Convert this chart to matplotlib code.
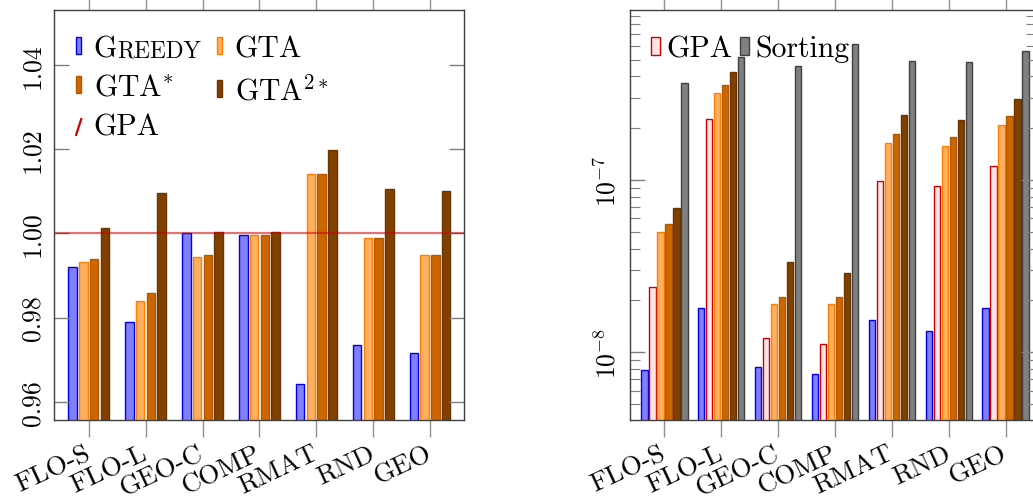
import numpy as np
import matplotlib
matplotlib.use("Agg")
import matplotlib.pyplot as plt
from matplotlib.lines import Line2D
from matplotlib.legend_handler import HandlerBase
from matplotlib.ticker import FixedLocator, LogLocator, NullFormatter, FuncFormatter

plt.rcParams["font.family"] = ["cmr10", "DejaVu Serif"]
plt.rcParams["mathtext.fontset"] = "cm"
plt.rcParams["axes.unicode_minus"] = False

categories = ["FLO-S", "FLO-L", "GEO-C", "COMP", "RMAT", "RND", "GEO"]

# left: solution quality relative to GPA
greedy_q = [0.9920, 0.9789, 1.0000, 0.9996, 0.9642, 0.9734, 0.9715]
gta_q = [0.9931, 0.9840, 0.9945, 0.9995, 1.0140, 0.9990, 0.9948]
gta_star_q = [0.9938, 0.9858, 0.9949, 0.9995, 1.0140, 0.9990, 0.9948]
gta2_star_q = [1.0012, 1.0096, 1.0002, 1.0002, 1.0197, 1.0106, 1.0100]
gpa_q = 1.0
quality_ticks = [0.96, 0.98, 1.00, 1.02, 1.04]

# right: running time (log scale)
greedy_t = [6.93e-9, 1.72e-8, 7.26e-9, 6.44e-9, 1.44e-8, 1.23e-8, 1.71e-8]
gpa_t = [2.31e-8, 2.24e-7, 1.11e-8, 1.02e-8, 9.83e-8, 9.19e-8, 1.20e-7]
gta_t = [4.90e-8, 3.20e-7, 1.81e-8, 1.81e-8, 1.63e-7, 1.57e-7, 2.08e-7]
gta_star_t = [5.48e-8, 3.57e-7, 1.99e-8, 1.99e-8, 1.83e-7, 1.77e-7, 2.34e-7]
gta2_star_t = [6.79e-8, 4.22e-7, 3.26e-8, 2.77e-8, 2.38e-7, 2.23e-7, 2.95e-7]
sorting_t = [3.64e-7, 5.20e-7, 4.57e-7, 6.15e-7, 4.89e-7, 4.84e-7, 5.61e-7]
time_ticks = [1e-8, 1e-7]

styles = {
    "greedy": dict(facecolor="#8080ff", edgecolor="#0000e0"),
    "gpa": dict(facecolor="#ffe6e6", edgecolor="#cc0000"),
    "gta": dict(facecolor="#ffb061", edgecolor="#ff8000"),
    "gta_star": dict(facecolor="#cc6600", edgecolor="#b35900"),
    "gta2_star": dict(facecolor="#804000", edgecolor="#6b3500"),
    "sorting": dict(facecolor="#808080", edgecolor="#404040"),
}

TICK_FS = 18.5
XLAB_FS = 19.5
LEG_FS = 21.5


class SlashHandler(HandlerBase):
    # pgfplots draws the GPA legend entry as a short slanted stroke
    def create_artists(self, legend, orig_handle, xdescent, ydescent,
                       width, height, fontsize, trans):
        line = Line2D([-xdescent, -xdescent + width],
                      [-ydescent - 0.1 * height, -ydescent + 0.8 * height],
                      color="#cc0000", lw=1.6, transform=trans)
        return [line]


def style_axes(ax):
    for s in ax.spines.values():
        s.set_color("#404040")
        s.set_linewidth(1.0)
    ax.set_xticks(np.arange(len(categories)))
    ax.set_xticklabels(categories)
    ax.tick_params(axis="x", which="both", direction="out", top=True, length=12,
                   color="#909090", width=1.0, pad=11, labelsize=XLAB_FS, labelrotation=25)
    ax.tick_params(axis="y", which="major", direction="in", right=True, length=11,
                   color="#808080", width=1.0, pad=7, labelsize=TICK_FS, labelrotation=90)
    ax.tick_params(axis="y", which="minor", direction="in", right=True, length=7,
                   color="#808080", width=0.8)
    for lbl in ax.get_xticklabels():
        lbl.set_ha("right")
        lbl.set_va("center")
        lbl.set_rotation_mode("anchor")
    for lbl in ax.get_yticklabels():
        lbl.set_va("center")


fig = plt.figure(figsize=(10.33, 5.02), dpi=100)
x = np.arange(len(categories))

# ---- left chart ----
ax1 = fig.add_axes([54 / 1033, 81 / 502, 410 / 1033, 410 / 502])
w1 = 0.15
offs1 = [-0.283, -0.0945, 0.0945, 0.283]
series1 = [(greedy_q, "greedy"), (gta_q, "gta"), (gta_star_q, "gta_star"), (gta2_star_q, "gta2_star")]
bars1 = []
for (vals, key), off in zip(series1, offs1):
    bars1.append(ax1.bar(x + off, vals, w1, linewidth=1.0, **styles[key]))
gpa_line = ax1.axhline(gpa_q, color="#cc0000", alpha=0.55, lw=1.6)
ax1.set_xlim(-0.61, -0.61 + 410 / 56.9)
ax1.set_ylim(0.9557, 1.0530)
ax1.yaxis.set_major_locator(FixedLocator(quality_ticks))
ax1.yaxis.set_major_formatter(FuncFormatter(lambda v, p: f"{v:.2f}"))
style_axes(ax1)

# placeholder for the small-caps "Greedy" label, drawn over after layout
h = [bars1[0], bars1[2], gpa_line, bars1[1], bars1[3]]
l = ["GREEDY", r"GTA$^{*}$", "GPA", "GTA", r"GTA$^{2*}$"]
leg1 = ax1.legend(h, l, ncol=2, loc="upper left", bbox_to_anchor=(0.054, 0.94),
                  frameon=False, borderpad=0, borderaxespad=0, handlelength=0.17,
                  handleheight=0.52, handletextpad=0.42, columnspacing=0.45,
                  labelspacing=0.42, prop={"size": LEG_FS},
                  handler_map={Line2D: SlashHandler()})
ph = leg1.get_texts()[0]
ph.set_fontsize(LEG_FS * 0.835)
ph.set_alpha(0)

# ---- right chart ----
ax2 = fig.add_axes([630 / 1033, 81 / 502, 406 / 1033, 410 / 502])
w2 = 0.114
offs2 = [-0.352, -0.211, -0.0703, 0.0703, 0.211, 0.352]
series2 = [(greedy_t, "greedy"), (gpa_t, "gpa"), (gta_t, "gta"), (gta_star_t, "gta_star"),
           (gta2_star_t, "gta2_star"), (sorting_t, "sorting")]
bars2 = []
for (vals, key), off in zip(series2, offs2):
    bars2.append(ax2.bar(x + off, vals, w2, bottom=1e-9, linewidth=1.0, **styles[key]))
ax2.set_yscale("log")
ax2.set_xlim(-0.603, -0.603 + 406 / 56.9)
ax2.set_ylim(4.05e-9, 9.7e-7)
ax2.yaxis.set_major_locator(FixedLocator(time_ticks))
ax2.yaxis.set_minor_locator(LogLocator(base=10, subs=np.arange(2, 10)))
ax2.yaxis.set_minor_formatter(NullFormatter())
ax2.yaxis.set_major_formatter(FuncFormatter(lambda v, p: r"$10^{%d}$" % round(np.log10(v))))
style_axes(ax2)

leg2 = ax2.legend([bars2[1], bars2[5]], ["GPA", "Sorting"], ncol=2, loc="upper left",
                  bbox_to_anchor=(0.052, 0.94), frameon=False, borderpad=0, borderaxespad=0,
                  handlelength=0.31, handleheight=0.55, handletextpad=0.2, columnspacing=0.25,
                  prop={"size": LEG_FS})

# draw "Greedy" in small capitals on top of the invisible placeholder
fig.canvas.draw()
renderer = fig.canvas.get_renderer()
bx, by = ph.get_transform().transform(ph.get_position())
g = fig.text(0, 0, "G", fontsize=LEG_FS, va="baseline", ha="left")
g.set_position(fig.transFigure.inverted().transform((bx, by)))
gw = g.get_window_extent(renderer).width
rest = fig.text(0, 0, "REEDY", fontsize=LEG_FS * 0.78, va="baseline", ha="left")
rest.set_position(fig.transFigure.inverted().transform((bx + gw + 0.5, by)))

fig.savefig("out.png", dpi=100)
